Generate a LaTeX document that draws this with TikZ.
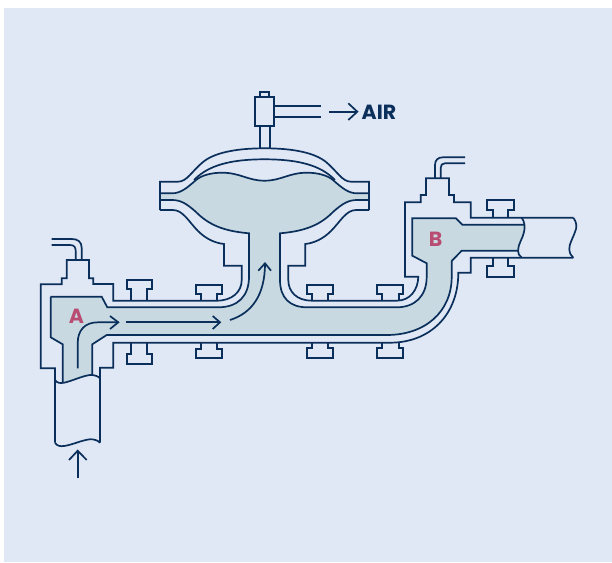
\documentclass[tikz,border=0pt]{standalone}
\usepackage{fontspec}
\setmainfont{Poppins}
\definecolor{bgc}{HTML}{E0E7F5}
\definecolor{fluid}{HTML}{C8D9E1}
\definecolor{ink}{HTML}{0B2F5B}
\definecolor{pink}{HTML}{B94C72}
\tikzset{
  ln/.style={draw=ink,line width=1.7pt,line join=miter,fill=none},
  wet/.style={fill=fluid,draw=none},
  lbl/.style={font=\bfseries\fontsize{20.5}{20.5}\selectfont,text=pink,inner sep=0pt},
  airlbl/.style={font=\bfseries\fontsize{20.5}{20.5}\selectfont,text=ink,inner sep=0pt,anchor=west}
}
\newcommand{\fluidpath}{
  (50.7,296.7) -- (101.7,296.7) -- (107.3,307.3) -- (218.3,307.3)
  .. controls (238,307.3) and (249,296) .. (249,276.7) -- (249,233.3)
  .. controls (222,231) and (208,224) .. (196,212)
  .. controls (186,203) and (180,200) .. (172,200) -- (160,200) -- (160,193.3) -- (172,193.3)
  .. controls (180,193.3) and (186,189) .. (196,180)
  .. controls (202,175) and (212,172.7) .. (222,172.7)
  .. controls (240,172.7) and (248,180.7) .. (264.5,180.7)
  .. controls (281,180.7) and (289,172.7) .. (307,172.7)
  .. controls (317,172.7) and (327,175) .. (333,180)
  .. controls (343,189) and (349,193.3) .. (357,193.3) -- (369,193.3) -- (369,200) -- (357,200)
  .. controls (349,200) and (343,203) .. (333,212)
  .. controls (321,224) and (307,231) .. (280,233.3) -- (280,280)
  .. controls (280,298) and (290,307.3) .. (307,307.3) -- (396.7,307.3)
  .. controls (415,307.3) and (426.7,296) .. (426.7,276.7) -- (426.7,263.3) -- (412.3,255.7) -- (412.3,218.3)
  -- (456,218.3) -- (462.3,224.7) -- (524,224.7)
  .. controls (525,234) and (518,240) .. (518,250.7)
  -- (461.7,250.7) -- (451.7,261) -- (451.7,276.7)
  .. controls (451.7,312) and (425,335) .. (386.7,335) -- (106.7,335) -- (92.3,344.3) -- (92.3,375.7)
  .. controls (82,375) and (72,383) .. (62.7,382) -- (62.7,344.3) -- (50.7,337.3) -- cycle
}
\begin{document}
\begin{tikzpicture}[x=1pt,y=-1pt]
\useasboundingbox (0,0) rectangle (612,562);
\fill[white] (0,0) rectangle (612,562);
\fill[bgc] (4,8) rectangle (612,562);
\fill[wet] \fluidpath;
% fluid edge
\draw[ln] (50.7,296.7) -- (101.7,296.7) -- (107.3,307.3) -- (218.3,307.3)
  .. controls (238,307.3) and (249,296) .. (249,276.7) -- (249,233.3)
  .. controls (222,231) and (208,224) .. (196,212)
  .. controls (186,203) and (180,200) .. (172,200) -- (160,200);
\draw[ln] (369,200) -- (357,200)
  .. controls (349,200) and (343,203) .. (333,212)
  .. controls (321,224) and (307,231) .. (280,233.3) -- (280,280)
  .. controls (280,298) and (290,307.3) .. (307,307.3) -- (396.7,307.3)
  .. controls (415,307.3) and (426.7,296) .. (426.7,276.7) -- (426.7,263.3) -- (412.3,255.7) -- (412.3,218.3)
  -- (456,218.3) -- (462.3,224.7) -- (524,224.7);
\draw[ln] (518,250.7) -- (461.7,250.7) -- (451.7,261) -- (451.7,276.7)
  .. controls (451.7,312) and (425,335) .. (386.7,335) -- (106.7,335) -- (92.3,344.3) -- (92.3,375.7);
\draw[ln] (62.7,382) -- (62.7,344.3) -- (50.7,337.3) -- (50.7,296.7);
% diaphragm
\draw[ln] (160,193.3) -- (172,193.3)
  .. controls (180,193.3) and (186,189) .. (196,180)
  .. controls (202,175) and (212,172.7) .. (222,172.7)
  .. controls (240,172.7) and (248,180.7) .. (264.5,180.7)
  .. controls (281,180.7) and (289,172.7) .. (307,172.7)
  .. controls (317,172.7) and (327,175) .. (333,180)
  .. controls (343,189) and (349,193.3) .. (357,193.3) -- (369,193.3);
% upper casing inner
\draw[ln] (194,180) .. controls (205,169) and (222,159.3) .. (264.5,159.3)
  .. controls (307,159.3) and (324,169) .. (335,180);
% upper casing outer
\draw[ln] (160,210) -- (160,181.7) -- (178,181.7)
  .. controls (187,181.7) and (192,171) .. (203,162)
  .. controls (214,153) and (235,148.3) .. (264.5,148.3)
  .. controls (294,148.3) and (315,153) .. (326,162)
  .. controls (337,171) and (342,181.7) .. (351,181.7)
  -- (369,181.7) -- (369,210);
% lower casing
\draw[ln] (160,210) -- (173,210)
  .. controls (183,210) and (189,222) .. (198,231)
  .. controls (206,239) and (215,243) .. (224,244) -- (224,265.7) -- (241.7,265.7) -- (241.7,280)
  .. controls (241.7,292) and (232,300.7) .. (216.7,300.7) -- (113.3,300.7) -- (113.3,284) -- (93.3,284)
  -- (93.3,278.3) -- (89,278.3) -- (89,260) -- (66.7,260) -- (66.7,278.3) -- (61.7,278.3) -- (61.7,284.3)
  -- (40.7,284.3) -- (40.7,368.3) -- (55,368.3) -- (55,442.7);
\draw[ln] (369,210) -- (356,210)
  .. controls (346,210) and (340,222) .. (331,231)
  .. controls (323,239) and (314,243) .. (305.3,244) -- (305.3,265.7) -- (288.3,265.7) -- (288.3,280)
  .. controls (288.3,292) and (297,300.7) .. (312,300.7) -- (396.7,300.7)
  .. controls (410,300.7) and (418,290) .. (418.3,276.7) -- (405,276.7) -- (405,202.3) -- (420.7,202.3)
  -- (420.7,195) -- (426,195) -- (426,178.3) -- (449,178.3) -- (449,195) -- (454,195) -- (454,202.3)
  -- (470.7,202.3) -- (470.7,217.7) -- (573.3,217.7);
% lower outer
\draw[ln] (100,442.7) -- (100,367.7) -- (113.3,367.7) -- (113.3,342.7) -- (390,342.7)
  .. controls (430,342.7) and (458.3,315) .. (458.3,272.7) -- (470.7,272.7) -- (470.7,257.7) -- (573.3,257.7);
% pipe ends (wavy)
\draw[ln] (521.7,217.7) .. controls (525,222) and (525,228) .. (524,232)
  .. controls (523,238) and (518,244) .. (518,250.7) .. controls (518,253) and (519,256) .. (521.7,257.7);
\draw[ln] (573.3,217.7) .. controls (577,222) and (577,228) .. (575,232)
  .. controls (573,238) and (569,244) .. (569.3,249) .. controls (569.5,253) and (571,256) .. (573.3,257.7);
\draw[ln] (55,380) .. controls (57,383) and (60,383.5) .. (64,382.7)
  .. controls (72,381) and (82,376) .. (90,375) .. controls (94,374.8) and (98,376) .. (100,378.3);
\draw[ln] (55,442.7) .. controls (57,446) and (60,446.5) .. (64,446)
  .. controls (72,445) and (82,440) .. (90,439.3) .. controls (94,439) and (98,440.5) .. (100,442.7);
% stubs
\draw[ln] (81.7,260) -- (81.7,248) .. controls (81.7,242) and (78,239) .. (72,239) -- (51.7,239);
\draw[ln] (75.7,260) -- (75.7,251) .. controls (75.7,247) and (74,245) .. (70,245) -- (51.7,245);
\draw[ln] (435,178.3) -- (435,165) .. controls (435,160) and (438,157.3) .. (443,157.3) -- (465,157.3);
\draw[ln] (440.7,178.3) -- (440.7,168) .. controls (440.7,165) and (442,163.3) .. (445,163.3) -- (465,163.3);
% bolts
\draw[ln] (130.7,300.7) -- (130.7,289.3) -- (126.7,289.3) -- (126.7,280) -- (151.7,280) -- (151.7,289.3) -- (147.3,289.3) -- (147.3,300.7);
\draw[ln] (200.7,300.7) -- (200.7,294) -- (196,294) -- (196,285) -- (221.7,285) -- (221.7,294) -- (217.3,294) -- (217.3,300.7);
\draw[ln] (311.7,300.7) -- (311.7,294) -- (307.3,294) -- (307.3,285) -- (332.7,285) -- (332.7,294) -- (328.3,294) -- (328.3,300.7);
\draw[ln] (382.3,300.7) -- (382.3,294) -- (377.3,294) -- (377.3,285) -- (402.7,285) -- (402.7,294) -- (399,294) -- (399,300.7);
\draw[ln] (130.7,342.7) -- (130.7,354.3) -- (126.7,354.3) -- (126.7,364) -- (151.7,364) -- (151.7,354.3) -- (147.3,354.3) -- (147.3,342.7);
\draw[ln] (200.7,342.7) -- (200.7,349.3) -- (196,349.3) -- (196,358.3) -- (221.7,358.3) -- (221.7,349.3) -- (217.3,349.3) -- (217.3,342.7);
\draw[ln] (311.7,342.7) -- (311.7,348.3) -- (307.3,348.3) -- (307.3,358.3) -- (332.7,358.3) -- (332.7,348.3) -- (328.3,348.3) -- (328.3,342.7);
\draw[ln] (382.3,342.7) -- (382.3,348.3) -- (377.3,348.3) -- (377.3,358.3) -- (402.7,358.3) -- (402.7,348.3) -- (399,348.3) -- (399,342.7);
\draw[ln] (493.3,217.7) -- (493.3,210) -- (487.3,210) -- (487.3,200) -- (514.3,200) -- (514.3,210) -- (508.3,210) -- (508.3,217.7);
\draw[ln] (493.3,257.7) -- (493.3,266) -- (487.3,266) -- (487.3,276.7) -- (514.3,276.7) -- (514.3,266) -- (508.3,266) -- (508.3,257.7);
% actuator head
\draw[ln] (259.7,148.3) -- (259.7,126);
\draw[ln] (270,148.3) -- (270,126);
\draw[ln] (255.3,97.3) rectangle (273.7,126);
\draw[ln] (260,97.3) rectangle (269.3,92.3);
\draw[ln] (273.7,106) -- (320.7,106);
\draw[ln] (273.7,117.3) -- (320.7,117.3);
% arrows
\draw[ln] (329.3,111.7) -- (357.3,111.7);
\draw[ln] (348.3,103.3) -- (357.3,111.7) -- (348.3,120);
\draw[ln] (77.7,478.3) -- (77.7,450.7);
\draw[ln] (69,460) -- (77.7,450.7) -- (86.7,460);
\draw[ln] (77.7,368.3) -- (77.7,343.3) .. controls (77.7,330) and (85,322.3) .. (98,322.3) -- (118.3,322.3);
\draw[ln] (110,316) -- (118.3,322.3) -- (110,329);
\draw[ln] (126,322.3) -- (220,322.3);
\draw[ln] (212.7,316) -- (220,322.3) -- (212.7,329);
\draw[ln] (230,320) .. controls (252,313) and (265,295) .. (265,263.3);
\draw[ln] (258.3,270.7) -- (265,263.3) -- (271,270.7);
% labels
\node[lbl] (labelA) at (76.5,316) {A};
\node[lbl] (labelB) at (435.5,239) {B};
\node[airlbl] (labelAir) at (361.5,112) {AIR};
\end{tikzpicture}
\end{document}
